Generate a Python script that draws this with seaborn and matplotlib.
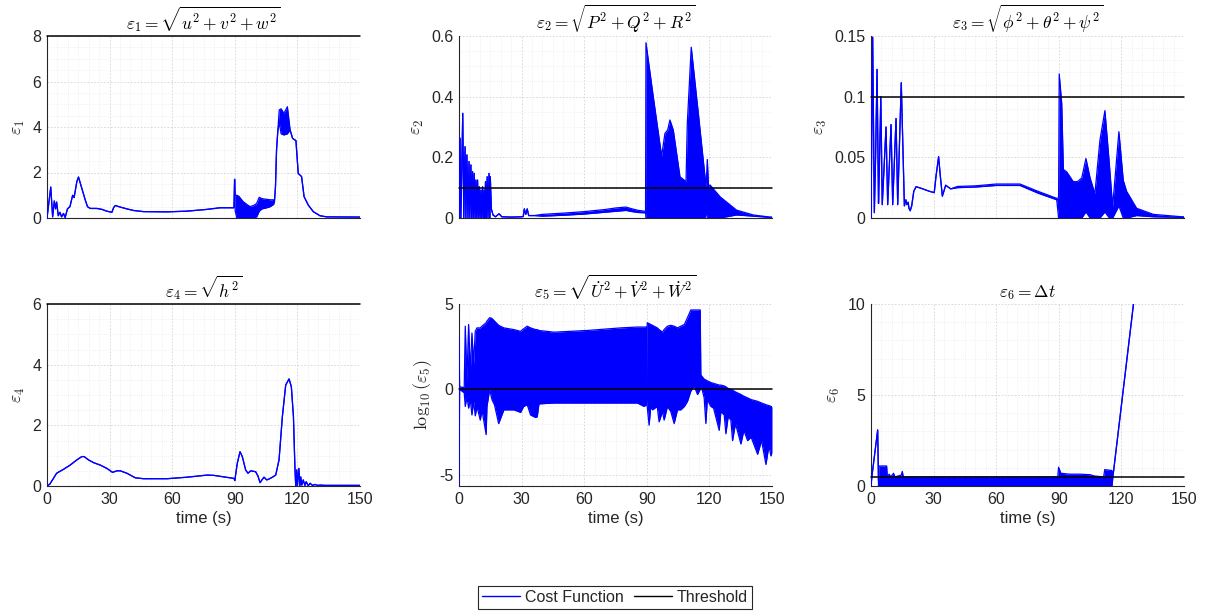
import numpy as np
import pandas as pd
import matplotlib
matplotlib.use("Agg")
import matplotlib.pyplot as plt
from matplotlib.ticker import MultipleLocator
from matplotlib.lines import Line2D
import seaborn as sns

# ---------------- data ----------------
# panel 1: eps1 ; (t, upper, lower) - lower None => same as upper
e1_t = [0, 1.8, 2.7, 3.5, 4.1, 4.6, 5.4, 6.2, 7.0, 7.9, 8.7, 9.8, 11.0, 12.3, 13.0, 14.3, 15.1, 16.7, 18.3,
        19.4, 20.7, 23.9, 26.3, 28.7, 31.1, 31.9, 32.7, 35.1, 38.3, 41.5, 46.3, 57.5, 67.0, 76.8, 83.0, 89.6,
        89.9, 90.2, 91, 92, 94, 96, 97.3, 99, 100.5, 101.7, 103, 105.3, 107, 108.6, 109.0, 109.5, 110.0,
        110.6, 111.3, 112.2, 113.5, 115.2, 116.5, 117.7, 119.3, 120.4, 122.0, 123.2, 125.2, 127.6, 130.8,
        134, 150]
e1_hi = [0, 1.36, 0.05, 0.75, 0.4, 0.7, 0.1, 0.25, 0.05, 0.2, 0.02, 0.4, 0.5, 1.0, 0.9, 1.6, 1.8, 1.3, 0.8,
         0.5, 0.42, 0.42, 0.38, 0.3, 0.25, 0.45, 0.55, 0.48, 0.4, 0.33, 0.28, 0.27, 0.3, 0.38, 0.45, 0.45,
         1.7, 1.0, 1.0, 0.95, 0.72, 0.58, 0.5, 0.55, 0.64, 0.91, 0.85, 0.82, 0.8, 0.8, 0.72, 1.38, 2.99,
         3.8, 4.75, 4.8, 4.6, 4.89, 3.87, 3.5, 3.4, 1.96, 1.82, 0.94, 0.57, 0.28, 0.1,
         0.05, 0.04]
e1_lo = [None] * 37 + [0.3, 0.0, 0.0, 0.0, 0.0, 0.0, 0.0, 0.05, 0.3, 0.4, 0.45, 0.5, 0.6, None, None, None,
                       None, 4.2, 3.7, 3.65, 3.7] + [None] * 11

# panel 2: eps2
e2_t = [0, 0.5, 0.9, 1.8, 2.3, 2.9, 3.3, 3.8, 4.3, 4.8, 5.2, 5.7, 6.1, 6.5, 6.9, 7.3, 7.7, 8.1, 8.5, 8.9,
        9.3, 9.7, 10.1, 10.5, 10.9, 11.3, 11.7, 12.1, 12.4, 12.7, 13.1, 13.5, 13.9, 14.4, 14.7, 15.0, 15.5,
        16.3, 17.5, 19.2, 20.5, 25, 30, 30.8, 31.3, 32, 32.7, 33.4, 36, 40, 50, 60, 70, 75, 80, 83, 86, 89.4,
        89.6, 93.1, 97.1, 98.7, 100, 101.1, 102.7, 105.9, 108.8, 109.4, 111.3, 114.7, 117.9, 118.4, 119.0,
        119.6, 120.3, 125.1, 133, 141, 149, 150]
e2_hi = [0, 0.263, 0, 0.345, 0, 0.235, 0, 0.208, 0, 0.186, 0, 0.175, 0, 0.153, 0, 0.147, 0, 0.125, 0, 0.125,
         0, 0.103, 0, 0.092, 0, 0.103, 0, 0.092, 0, 0.12, 0, 0.136, 0, 0.147, 0, 0.136, 0.03,
         0.01, 0.004, 0.014, 0.004, 0.003, 0.004, 0.005, 0.03, 0.012, 0.03, 0.008, 0.008, 0.012, 0.016, 0.021,
         0.028, 0.033, 0.036, 0.03, 0.025, 0.022,
         0.578, 0.40, 0.204, 0.279, 0.29, 0.323, 0.29, 0.136, 0.12, 0.31, 0.563, 0.345, 0.136, 0.1, 0.193,
         0.1, 0.109, 0.07, 0.026, 0.01, 0.003, 0.003]
e2_lo = [None] * 49 + [0.006, 0.009, 0.013, 0.019, 0.022, 0.025, 0.021, 0.018, 0.017,
                       0, 0, 0, 0, 0, 0, 0, 0, 0, 0, 0, 0, 0, 0.02, 0,
                       0, 0, 0, 0.01, 0.006, 0.002, 0.002]

# panel 3: eps3
e3_t = [0, 0.8, 1.6, 2.2, 2.9, 3.6, 4.0, 4.7, 5.4, 7.2, 8.0, 9.6, 10.4, 12.0, 12.8, 14.5, 16.0, 16.7, 17.2,
        17.8, 18.2, 18.8, 19.5, 20.5, 21.6, 24, 28, 30.3, 31.2, 32.4, 33.2, 34.2, 35.8, 38.2, 41.4, 50, 60,
        71.4, 80, 89, 89.9, 90.2, 91.4, 92.2, 93.8, 96.9, 99, 101, 103, 105, 107.3, 109.7, 112.1, 114.2,
        115.8, 118.8, 120.9, 122.5, 127.3, 135.3, 149, 150]
e3_hi = [0, 0.149, 0.0044, 0.05, 0.1225, 0.012, 0.04, 0.1, 0.011, 0.075, 0.011, 0.077, 0.011, 0.082, 0.011,
         0.1115, 0.01, 0.015, 0.011, 0.013, 0.008, 0.006, 0.01, 0.022, 0.0258, 0.0245, 0.022, 0.0209, 0.035,
         0.0505, 0.035, 0.018, 0.027, 0.024, 0.026, 0.0265, 0.028, 0.028, 0.022, 0.0162, 0.0165, 0.1187,
         0.0945, 0.04, 0.038, 0.030, 0.03, 0.033, 0.049, 0.033, 0.02, 0.064, 0.0885, 0.045, 0.0093, 0.0711,
         0.031, 0.022, 0.008, 0.003, 0.001, 0.001]
e3_lo = [None] * 34 + [0.025, 0.0255, 0.0268, 0.0268, 0.0205, 0.0150, 0, 0, 0, 0, 0, 0, 0, 0, 0.005, 0, 0, 0,
                       0.005, 0, 0, 0.01, 0, 0, 0.002, 0.001, 0.0005, 0.0005]

# panel 4: eps4
e4_t = [0, 1.4, 4.6, 7.9, 11.1, 14.3, 16.7, 17.8, 19.9, 22.3, 25.5, 28.7, 31.4, 33.5, 35.1, 38.3, 42.3, 46.3,
        57.5, 67.1, 76.8, 80, 89.6, 90, 91.2, 92.5, 93.6, 95.2, 96.3, 97.6, 100, 101.1, 102.1, 103.2, 104,
        105.3, 106.4, 108, 109.6, 111.2, 112.8, 114.4, 116.0, 117.1, 118.1, 118.8, 119.2, 119.7, 120, 120.7,
        121.2, 121.6, 122.1, 122.8, 123.6, 124.2, 125.2, 126.1, 127.2, 128.4, 129.7, 131.2, 133, 150]
e4_y = [0, 0.066, 0.42, 0.55, 0.69, 0.86, 0.97, 0.97, 0.86, 0.77, 0.69, 0.58, 0.45, 0.5, 0.5, 0.42, 0.27,
        0.24, 0.24, 0.29, 0.36, 0.35, 0.25, 0.18, 0.75, 1.13, 0.97, 0.53, 0.42, 0.5, 0.47, 0.33, 0.11, 0.22,
        0.29, 0.2, 0.23, 0.29, 0.36, 0.86, 2.29, 3.33, 3.53, 3.27, 2.29, 0.64, 0, 0.53, 0, 0.58, 0, 0.3,
        0.03, 0.2, 0.02, 0.14, 0.01, 0.09, 0.02, 0.05, 0.02, 0.03, 0.02, 0.02]

# panel 5: log10(eps5) envelope
e5_t = [0.0, 0.3, 2.5, 3.0, 3.8, 4.6, 5.4, 6.2, 7.0, 7.8, 8.6, 10.2, 11.0, 13.0, 13.4, 14.7, 15.8, 17.0,
        19.0, 21.5, 26.3, 29.5, 31.0, 32.7, 34.3, 36.7, 37.5, 38.3, 45.5, 61.5, 77.5, 85.5, 88.7, 89.8, 90.0,
        90.2, 91.1, 91.9, 92.7, 95.0, 95.9, 97.5, 98.3, 99.9, 101.5, 103.1, 104.7, 106.3, 108.0, 109.5, 111.1,
        112.7, 114.3, 115.6, 115.9, 117.5, 118.3, 119.0, 120.7, 122.0, 124.7, 125.5, 127.1, 127.9, 129.0,
        130.3, 131.1, 132.5, 135.1, 136.5, 138.3, 140.0, 143.1, 145.0, 147.1, 148.5, 149.5, 150.0]
e5_hi = [3.0, 0.15, 0.1, 3.7, 0.5, 3.8, 1.0, 3.3, 1.5, 3.4, 3.6, 3.6, 3.7, 3.9, 4.0, 4.2, 4.15, 4.0,
         3.75, 3.6, 3.5, 3.4, 3.55, 3.7, 3.6, 3.5, 3.5, 3.45, 3.35, 3.45, 3.6, 3.65, 3.65, 3.65, 0.3,
         3.9, 3.85, 3.8, 3.75, 3.6, 3.5, 3.35, 3.5, 3.7, 3.75, 3.7, 3.6, 3.7, 3.8, 4.2, 4.65,
         4.65, 4.65, 4.65, 0.84, 0.6, 0.55, 0.5, 0.4, 0.35, 0.25, 0.25, 0.2, 0.15, 0.05,
         0.0, -0.05, -0.15, -0.3, -0.4, -0.5, -0.6, -0.7, -0.8, -0.9, -0.95, -1.0, -1.02]
e5_lo = [-5.66, 0.0, -0.2, -1.0, -0.4, -1.1, -0.6, -1.5, -0.7, -1.55, -1.0, -1.8, -1.2, -2.65, -1.0, 0.0,
         -0.6, -0.9, -2.0, -1.2, -1.2, -1.35, -1.0, -0.9, -1.5, -1.65, -1.6, -0.85, -0.8, -0.8, -0.8, -0.8,
         -1.0, -0.9, -0.5, -1.0, -2.1, -1.0, -1.2, -1.0, -1.9, -1.3, -1.8, -1.0, -1.3, -2.0, -1.2, -1.2,
         -1.0, -0.7, -0.1, 0.2, -0.3, 0.0, 0.3, -0.5, -2.0, -0.6, -1.0, -1.1, -2.4, -1.3, -1.5, -2.6,
         -1.6, -1.8, -3.0, -2.0, -3.2, -2.4, -3.0, -2.8, -3.8, -3.0, -4.4, -3.3, -3.9, -3.7]

# panel 6: eps6
e6_t = [0.0, 0.4, 3.2, 3.6, 3.8, 7.5, 7.8, 8.7, 9.5, 10.8, 11.5, 14.5, 15.0, 15.5, 89.5, 89.9, 91.0, 95,
        100, 105, 107, 111.5, 112.0, 115.5, 115.9, 126.0]
e6_hi = [0, 0.5, 3.08, 0.3, 1.1, 1.1, 0.5, 0.65, 0.5, 0.7, 0.5, 0.6, 0.8, 0.5, 0.5, 1.03, 0.7, 0.65,
         0.65, 0.62, 0.55, 0.5, 0.9, 0.85, 0.48, 10.2]
e6_lo = [0, 0.5, 3.08, 0.0, 0.0, 0.0, 0.0, 0.0, 0.0, 0.0, 0.0, 0.0, 0.0, 0.0, 0.0, 0.0, 0.0, 0.0,
         0.0, 0.0, 0.0, 0.0, 0.0, 0.0, 0.48, 10.2]

thresholds = [8, 0.1, 0.1, 6, 0, 0.5]
titles = [r"$\varepsilon_1 = \sqrt{u^2+v^2+w^2}$",
          r"$\varepsilon_2 = \sqrt{P^2+Q^2+R^2}$",
          r"$\varepsilon_3 = \sqrt{\phi^2+\theta^2+\psi^2}$",
          r"$\varepsilon_4 = \sqrt{h^2}$",
          r"$\varepsilon_5 = \sqrt{\dot{U}^2+\dot{V}^2+\dot{W}^2}$",
          r"$\varepsilon_6 = \Delta t$"]
ylabels = [r"$\varepsilon_1$", r"$\varepsilon_2$", r"$\varepsilon_3$", r"$\varepsilon_4$",
           r"$\log_{10}(\varepsilon_5)$", r"$\varepsilon_6$"]
ylims = [(0, 8), (0, 0.6), (0, 0.15), (0, 6), (-5.66, 5), (0, 10)]
ymajor = [2, 0.2, 0.05, 2, 5, 5]
yminor = [0.5, 0.05, 0.01, 0.5, 1, 1]
xticks = [0, 30, 60, 90, 120, 150]
legend_labels = ["Cost Function", "Threshold"]

# ---------------- style ----------------
sns.set_theme(style="white")
plt.rcParams["font.family"] = ["Liberation Sans", "DejaVu Sans"]
plt.rcParams["mathtext.fontset"] = "cm"

BLUE = "#0000ff"
AX = "#262626"

fig = plt.figure(figsize=(12.12, 6.15), dpi=100)
W, H = 1212, 615
lefts = [47, 459, 871]
tops = [36, 304]
aw, ah = 313, 182

def lohi(hi, lo):
    return [h if l is None else l for h, l in zip(hi, lo)]

series = [
    (e1_t, e1_hi, lohi(e1_hi, e1_lo)),
    (e2_t, e2_hi, lohi(e2_hi, e2_lo)),
    (e3_t, e3_hi, lohi(e3_hi, e3_lo)),
    (e4_t, e4_y, e4_y),
    (e5_t, e5_hi, e5_lo),
    (e6_t, e6_hi, e6_lo),
]

for i in range(6):
    r, c = divmod(i, 3)
    ax = fig.add_axes([lefts[c] / W, 1 - (tops[r] + ah) / H, aw / W, ah / H])
    t, hi, lo = series[i]
    t = np.asarray(t, float)
    hi = np.asarray(hi, float)
    lo = np.asarray(lo, float)
    ax.fill_between(t, lo, hi, color=BLUE, lw=0, zorder=2)
    df_hi = pd.DataFrame({"t": t, "v": hi})
    df_lo = pd.DataFrame({"t": t, "v": lo})
    sns.lineplot(data=df_hi, x="t", y="v", ax=ax, color=BLUE, lw=0.9, estimator=None, sort=False, zorder=3)
    sns.lineplot(data=df_lo, x="t", y="v", ax=ax, color=BLUE, lw=0.9, estimator=None, sort=False, zorder=3)
    ax.axhline(thresholds[i], color="black", lw=1.1, zorder=4, clip_on=False)

    ax.set_xlim(0, 150)
    ax.set_ylim(*ylims[i])
    ax.xaxis.set_major_locator(MultipleLocator(30))
    ax.xaxis.set_minor_locator(MultipleLocator(5))
    ax.yaxis.set_major_locator(MultipleLocator(ymajor[i]))
    ax.yaxis.set_minor_locator(MultipleLocator(yminor[i]))
    ax.grid(which="major", color="#d4d4d4", lw=0.6, ls=(0, (2, 2)), zorder=0)
    ax.grid(which="minor", color="#e4e4e4", lw=0.5, ls=(0, (1, 2)), zorder=0)
    ax.set_axisbelow(True)
    for s in ["top", "right"]:
        ax.spines[s].set_visible(False)
    for s in ["left", "bottom"]:
        ax.spines[s].set_color(AX)
        ax.spines[s].set_linewidth(0.8)
    ax.tick_params(which="major", direction="in", length=3, width=0.6, color=AX,
                   labelsize=11.5, labelcolor=AX, pad=4)
    ax.tick_params(which="minor", length=0)
    ax.set_title(titles[i], fontsize=12.5, pad=5, color="black")
    ax.set_ylabel(ylabels[i], fontsize=13, color=AX, labelpad=4)
    if r == 0:
        ax.set_xlabel("")
        ax.tick_params(axis="x", labelbottom=False)
    else:
        ax.set_xlabel("time (s)", fontsize=12, color=AX, labelpad=3)
        ax.set_xticks(xticks)
    ax.set_yticklabels([f"{v:g}" for v in ax.get_yticks()])

handles = [Line2D([], [], color=BLUE, lw=1.0), Line2D([], [], color="black", lw=1.0)]
leg = fig.legend(handles, legend_labels, loc="center", bbox_to_anchor=(615 / W, 1 - 597.5 / H), ncol=2,
                 frameon=True, fancybox=False, edgecolor=AX, framealpha=1, fontsize=11.5,
                 handlelength=2.4, handletextpad=0.3, columnspacing=0.6, borderpad=0.25,
                 borderaxespad=0)
leg.get_frame().set_linewidth(0.8)

fig.savefig("out.png", dpi=100)
